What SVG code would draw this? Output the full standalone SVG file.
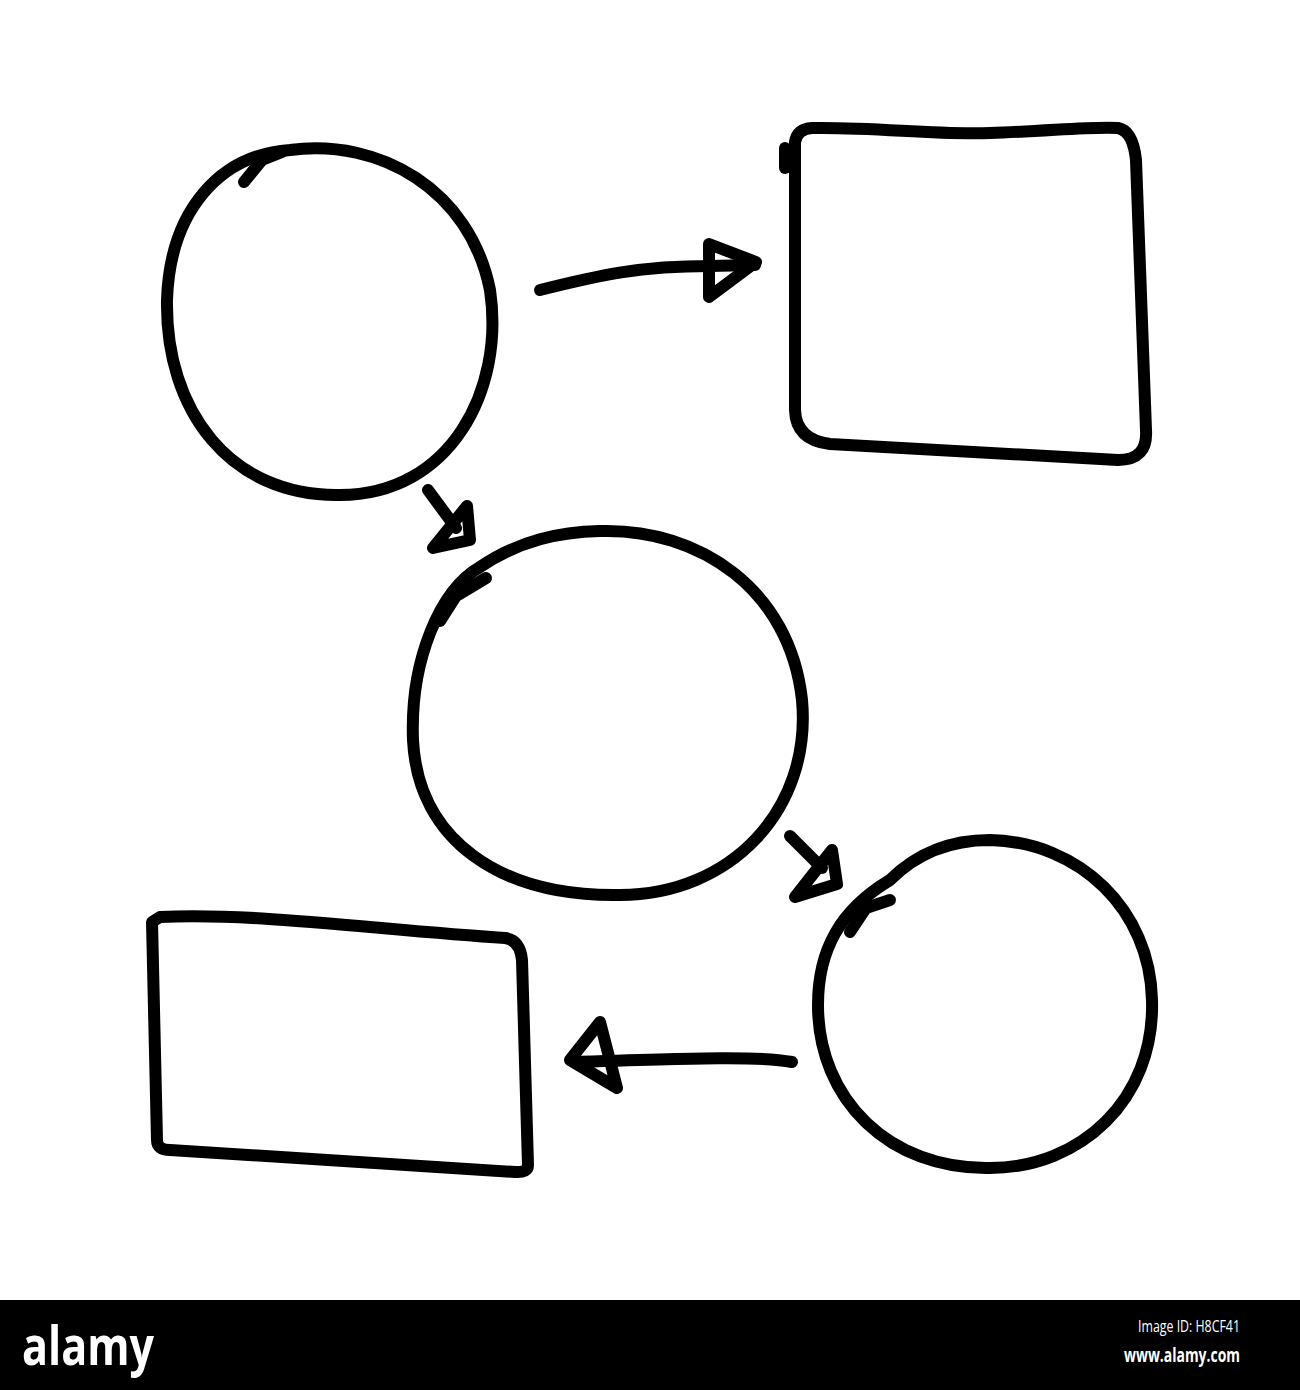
<svg xmlns="http://www.w3.org/2000/svg" width="1300" height="1390" viewBox="0 0 1300 1390">
<style>
.s{fill:none;stroke:#000;stroke-width:12;stroke-linecap:round;stroke-linejoin:round}
.w{fill:#fff;font-family:"Open Sans","Liberation Sans",sans-serif}
</style>
<rect width="1300" height="1390" fill="#fff"/>
<g id="circle1">
<path class="s" d="M290,150 C380,138 470,190 490,290 C505,390 450,495 340,495 C230,497 165,410 167,300 C170,210 220,155 290,150 Z"/>
<path class="s" d="M244,182 L262,160 L282,152"/>
</g>
<g id="rect1">
<path class="s" d="M795,168 L795,142 Q797,129 812,128 C880,127 930,135 990,133 C1050,131 1095,126 1118,128 Q1133,131 1136,160 L1146,430 Q1148,460 1118,460 L830,444 Q796,440 795,410 Z"/>
<path class="s" d="M785,148 L785,168"/>
</g>
<g id="circle2">
<path class="s" d="M600,531 C700,528 790,590 802,700 C812,810 730,895 620,895 C500,897 418,840 413,740 C410,660 440,590 480,567 C520,540 560,532 600,531 Z"/>
<path class="s" d="M440,621 L456,596 L486,578"/>
</g>
<g id="circle3">
<path class="s" d="M990,840 C1080,842 1150,910 1152,1000 C1155,1100 1080,1168 990,1168 C890,1170 818,1100 818,1005 C818,950 840,910 890,880 C920,850 955,840 990,840 Z"/>
<path class="s" d="M850,932 L866,908 L890,900"/>
</g>
<g id="rect2">
<path class="s" d="M152,922 L160,917 C250,912 380,930 505,938 Q520,940 522,960 L528,1165 Q528,1173 515,1172 L170,1150 Q157,1150 157,1140 L152,922 Z"/>
</g>
<g id="connectors">
<path class="s" d="M540,290 C600,275 640,266 710,266 L755,265"/>
<path class="s" d="M709,244 L756,262 L709,297 Z"/>
<path class="s" d="M428,490 L456,528"/>
<path class="s" d="M467,506 L470,540 L433,548 Z"/>
<path class="s" d="M790,836 L822,868"/>
<path class="s" d="M832,850 L837,884 L795,897 Z"/>
<path class="s" d="M792,1062 C760,1056 700,1058 575,1062"/>
<path class="s" d="M600,1022 L570,1060 L617,1088 Z"/>
</g>
<g id="footer">
<rect x="0" y="1300" width="1300" height="90" fill="#000"/>
<text class="w" x="22" y="1365" font-size="54" font-weight="bold" textLength="132" lengthAdjust="spacingAndGlyphs">alamy</text>
<text class="w" x="1240" y="1332" font-size="17" text-anchor="end" textLength="102" lengthAdjust="spacingAndGlyphs">Image ID: H8CF41</text>
<text class="w" x="1240" y="1362" font-size="19" font-weight="bold" text-anchor="end" textLength="116" lengthAdjust="spacingAndGlyphs">www.alamy.com</text>
</g>
</svg>
